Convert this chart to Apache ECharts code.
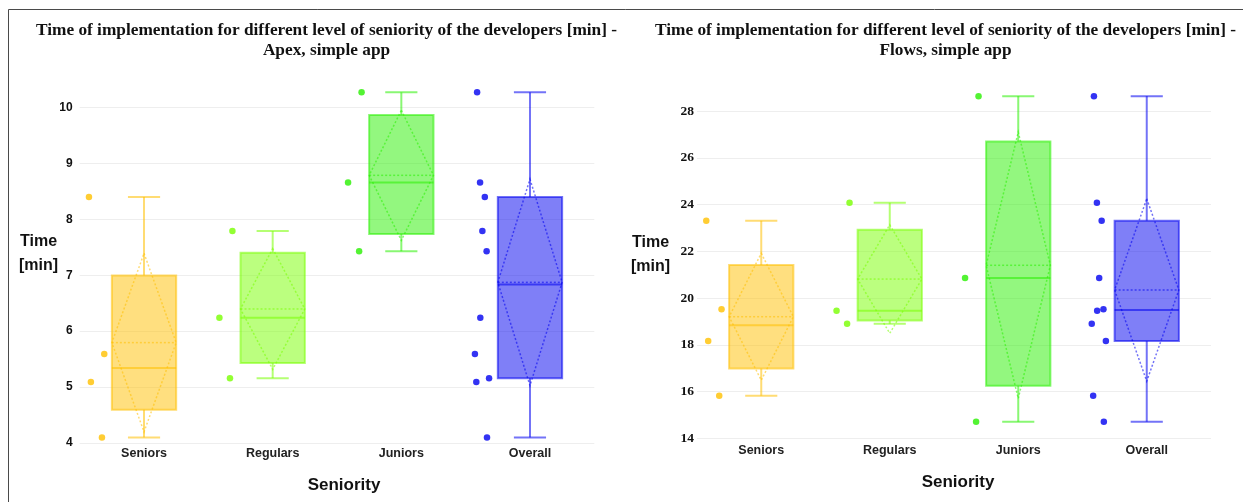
<!DOCTYPE html>
<html><head><meta charset="utf-8">
<script src="https://cdn.jsdelivr.net/npm/echarts@6/dist/echarts.min.js"></script>
<style>html,body{margin:0;padding:0;background:#fff}#c{width:1243px;height:502px}</style>
</head><body><div id="c"></div>
<script>
// ---- data ----
const categories = ['Seniors', 'Regulars', 'Juniors', 'Overall'];
const apexSeniors  = [8.40, 5.59, 5.09, 4.10];
const apexRegulars = [7.79, 6.24, 5.16];
const apexJuniors  = [10.27, 8.66, 7.43];
const flowsSeniors  = [23.31, 19.52, 18.16, 15.82];
const flowsRegulars = [24.08, 19.46, 18.90];
const flowsJuniors  = [28.64, 20.86, 14.71];
const apexTicks  = [4, 5, 6, 7, 8, 9, 10];
const flowsTicks = [14, 16, 18, 20, 22, 24, 26, 28];
// horizontal jitter of the sample points (category units, points sorted high→low)
const jitterSeniors  = [-0.428, -0.309, -0.413, -0.327];
const jitterRegulars = [-0.313, -0.414, -0.332];
const jitterJuniors  = [-0.309, -0.414, -0.328];
const jitterOverall  = [-0.411, -0.388, -0.351, -0.370, -0.337, -0.386, -0.428, -0.318, -0.417, -0.334];

const baseColors = [[255, 192, 0], [120, 255, 0], [40, 240, 0], [0, 0, 240]];
const rgba = (c, a) => `rgba(${c[0]},${c[1]},${c[2]},${a})`;

const desc = a => [...a].sort((x, y) => y - x);
const apexGroups = [apexSeniors, apexRegulars, apexJuniors, desc(apexSeniors.concat(apexRegulars, apexJuniors))];
const flowsGroups = [flowsSeniors, flowsRegulars, flowsJuniors, desc(flowsSeniors.concat(flowsRegulars, flowsJuniors))];
const jitters = [jitterSeniors, jitterRegulars, jitterJuniors, jitterOverall];

function quant(s, p) {
  const n = s.length; let pos = n * p - 0.5;
  pos = Math.max(0, Math.min(n - 1, pos));
  const lo = Math.floor(pos), hi = Math.ceil(pos);
  return s[lo] + (s[hi] - s[lo]) * (pos - lo);
}
function stats(arr, i) {
  const s = [...arr].sort((a, b) => a - b), n = s.length;
  const mean = s.reduce((a, b) => a + b, 0) / n;
  const sd = Math.sqrt(s.reduce((a, b) => a + (b - mean) ** 2, 0) / n);
  return [i, s[0], quant(s, 0.25), quant(s, 0.5), quant(s, 0.75), s[n - 1], mean, sd];
}

function renderBox(params, api) {
  const i = api.value(0);
  const mn = api.value(1), q1 = api.value(2), md = api.value(3), q3 = api.value(4), mx = api.value(5);
  const mean = api.value(6), sd = api.value(7);
  const c = baseColors[i];
  const X = d => api.coord([i + d, mn])[0];
  const Y = v => api.coord([i, v])[1];
  const xl = X(-0.25), xr = X(0.25), xc = X(0), cl = X(-0.125), cr = X(0.125);
  const line = rgba(c, 0.55);
  const solid = { stroke: line, lineWidth: 2, fill: null };
  const dashed = { stroke: line, lineWidth: 1.5, lineDash: [2, 2], fill: null };
  return {
    type: 'group',
    children: [
      { type: 'rect', shape: { x: xl, y: Y(q3), width: xr - xl, height: Y(q1) - Y(q3) }, style: { fill: rgba(c, 0.5), stroke: line, lineWidth: 2 } },
      { type: 'line', shape: { x1: xl, y1: Y(md), x2: xr, y2: Y(md) }, style: solid },
      { type: 'line', shape: { x1: xl, y1: Y(mean), x2: xr, y2: Y(mean) }, style: dashed },
      { type: 'polygon', shape: { points: [[xc, Y(mean + sd)], [xr, Y(mean)], [xc, Y(mean - sd)], [xl, Y(mean)]] }, style: dashed },
      { type: 'line', shape: { x1: xc, y1: Y(q3), x2: xc, y2: Y(mx) }, style: solid },
      { type: 'line', shape: { x1: xc, y1: Y(q1), x2: xc, y2: Y(mn) }, style: solid },
      { type: 'line', shape: { x1: cl, y1: Y(mx), x2: cr, y2: Y(mx) }, style: solid },
      { type: 'line', shape: { x1: cl, y1: Y(mn), x2: cr, y2: Y(mn) }, style: solid }
    ]
  };
}

function buildSeries(groups, gi) {
  const out = [{
    type: 'custom', xAxisIndex: gi * 2 + 1, yAxisIndex: gi,
    renderItem: renderBox,
    encode: { x: 0, y: [1, 5] },
    data: groups.map((g, i) => stats(g, i)),
    silent: true, z: 2
  }];
  groups.forEach((g, i) => {
    out.push({
      type: 'scatter', xAxisIndex: gi * 2 + 1, yAxisIndex: gi,
      symbolSize: 6.5, silent: true, z: 3,
      itemStyle: { color: rgba(baseColors[i], 1) },
      data: g.map((v, k) => [i + jitters[i][k], v])
    });
  });
  return out;
}

const grids = [
  { left: 79.7, top: 85.1, width: 514.6, height: 357.9 },
  { left: 697, top: 87.75, width: 514, height: 350.55 }
];
const catAxis = (gi, margin) => ({
  type: 'category', gridIndex: gi, data: categories,
  axisLine: { show: false }, axisTick: { show: false },
  axisLabel: { margin: margin, color: '#222', fontFamily: 'Liberation Sans', fontWeight: 'bold', fontSize: 12.5 }
});
const valAxisX = gi => ({ type: 'value', gridIndex: gi, min: -0.5, max: 3.5, show: false });

const sans = '"Liberation Sans", Arial, sans-serif';
const serif = '"Liberation Serif", "Times New Roman", serif';
const titleFont = 'bold 17.3px ' + serif;
const txt = (x, y, text, font, align) => ({
  type: 'text', x: x, y: y,
  style: { text: text, font: font, fill: '#111', align: align, verticalAlign: 'middle', textAlign: align, textVerticalAlign: 'middle' }
});

const option = {
  backgroundColor: '#fff',
  animation: false,
  grid: grids,
  xAxis: [catAxis(0, 4), valAxisX(0), catAxis(1, 6), valAxisX(1)],
  yAxis: [
    {
      type: 'value', gridIndex: 0, min: apexTicks[0], max: 10.4, interval: 1,
      axisLine: { show: false }, axisTick: { show: false },
      axisLabel: { showMaxLabel: false, margin: 7, color: '#111', fontFamily: sans, fontWeight: 'bold', fontSize: 12 },
      splitLine: { showMaxLine: false, lineStyle: { color: '#eeeeee', width: 1 } }
    },
    {
      type: 'value', gridIndex: 1, min: flowsTicks[0], max: 29, interval: 2,
      axisLine: { show: false }, axisTick: { show: false },
      axisLabel: { showMaxLabel: false, margin: 3, color: '#111', fontFamily: serif, fontWeight: 'bold', fontSize: 13.5 },
      splitLine: { showMaxLine: false, lineStyle: { color: '#eeeeee', width: 1 } }
    }
  ],
  series: buildSeries(apexGroups, 0).concat(buildSeries(flowsGroups, 1)),
  graphic: [
    { type: 'line', shape: { x1: 8.5, y1: 9.5, x2: 1243, y2: 9.5 }, style: { stroke: '#4a4a4a', lineWidth: 1 } },
    { type: 'line', shape: { x1: 8.5, y1: 9.5, x2: 8.5, y2: 502 }, style: { stroke: '#4a4a4a', lineWidth: 1 } },
    txt(326.5, 31, 'Time of implementation for different level of seniority of the developers [min] -', titleFont, 'center'),
    txt(326.5, 51, 'Apex, simple app', titleFont, 'center'),
    txt(945.5, 31, 'Time of implementation for different level of seniority of the developers [min] -', titleFont, 'center'),
    txt(945.5, 51, 'Flows, simple app', titleFont, 'center'),
    txt(20, 241.5, 'Time', 'bold 16px ' + sans, 'left'),
    txt(19, 266, '[min]', 'bold 16px ' + sans, 'left'),
    txt(632, 243, 'Time', 'bold 16px ' + sans, 'left'),
    txt(631, 267, '[min]', 'bold 16px ' + sans, 'left'),
    txt(344, 485, 'Seniority', 'bold 17px ' + sans, 'center'),
    txt(958, 482, 'Seniority', 'bold 17px ' + sans, 'center')
  ]
};
const chart = echarts.init(document.getElementById('c'), null, { renderer: 'canvas' });
chart.setOption(option);
</script>
</body></html>
